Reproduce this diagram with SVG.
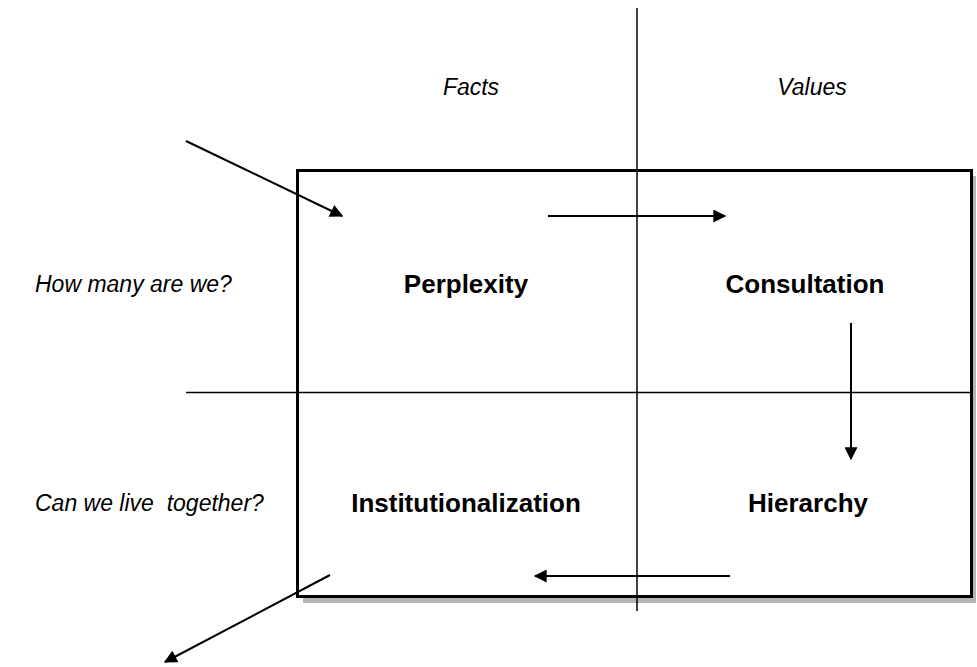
<svg xmlns="http://www.w3.org/2000/svg" width="977" height="667" viewBox="0 0 977 667">
<style>
.it{font-family:"Liberation Sans",Arial,sans-serif;font-style:italic;font-size:23px;fill:#000}
.bd{font-family:"Liberation Sans",Arial,sans-serif;font-weight:bold;font-size:26px;fill:#000}
.ln{stroke:#000;stroke-width:1.5;fill:none}
.ar{stroke:#000;stroke-width:2;fill:none;marker-end:url(#ah)}
</style>
<defs>
<marker id="ah" viewBox="0 0 10 10" refX="9" refY="5" markerWidth="7" markerHeight="6.5" markerUnits="strokeWidth" orient="auto">
<path d="M0,0 L10,5 L0,10 z" fill="#000"/>
</marker>
</defs>
<rect x="303" y="176" width="673" height="427" fill="#b4b4b4"/>
<g id="frame">
<rect x="297.5" y="170.5" width="674" height="426" fill="#fff" stroke="#000" stroke-width="3"/>
</g>
<g id="axes">
<line class="ln" x1="637" y1="8" x2="637" y2="611"/>
<line class="ln" x1="186" y1="392.5" x2="972" y2="392.5"/>
</g>
<g id="labels">
<text class="it" x="471" y="95" text-anchor="middle">Facts</text>
<text class="it" x="812" y="95" text-anchor="middle">Values</text>
<text class="it" x="35" y="292">How many are we?</text>
<text class="it" x="35" y="511" xml:space="preserve">Can we live  together?</text>
</g>
<g id="perplexity"><text class="bd" x="466" y="293" text-anchor="middle">Perplexity</text></g>
<g id="consultation"><text class="bd" x="805" y="293" text-anchor="middle">Consultation</text></g>
<g id="institutionalization"><text class="bd" x="466" y="512" text-anchor="middle">Institutionalization</text></g>
<g id="hierarchy"><text class="bd" x="808" y="512" text-anchor="middle">Hierarchy</text></g>
<g id="connectors">
<line class="ar" x1="186" y1="141" x2="342" y2="216"/>
<line class="ar" x1="548" y1="216" x2="725" y2="216"/>
<line class="ar" x1="851" y1="323" x2="851" y2="459"/>
<line class="ar" x1="730" y1="576" x2="535" y2="576"/>
<line class="ar" x1="330" y1="575" x2="165" y2="662"/>
</g>
</svg>
